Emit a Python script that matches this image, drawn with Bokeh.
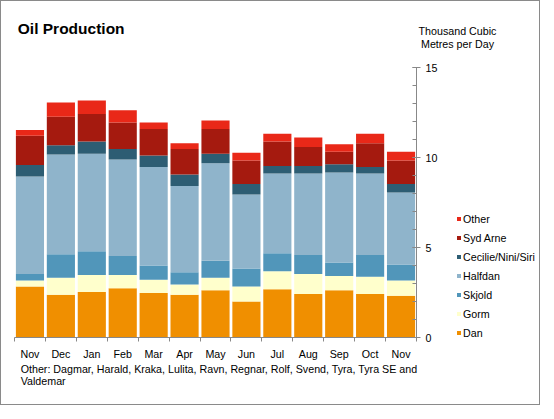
from bokeh.plotting import figure
from bokeh.layouts import column, row
from bokeh.models import (Range1d, FixedTicker, SingleIntervalTicker, Legend,
                          LegendItem, Label, ColumnDataSource)
from bokeh.embed import file_html
from bokeh.resources import INLINE

months = ["Nov", "Dec", "Jan", "Feb", "Mar", "Apr", "May", "Jun",
          "Jul", "Aug", "Sep", "Oct", "Nov"]
dan = [2.84, 2.37, 2.53, 2.74, 2.47, 2.37, 2.63, 2.00, 2.68, 2.42, 2.63, 2.42, 2.32]
gorm = [0.32, 0.95, 0.94, 0.73, 0.74, 0.58, 0.69, 0.84, 1.00, 1.11, 0.79, 0.95, 0.84]
skjold = [0.37, 1.31, 1.32, 1.06, 0.79, 0.68, 0.94, 1.00, 1.00, 1.05, 0.74, 1.21, 0.89]
halfdan = [5.42, 5.53, 5.42, 5.36, 5.47, 4.79, 5.42, 4.11, 4.43, 4.53, 5.00, 4.53, 4.00]
cecilie = [0.63, 0.52, 0.68, 0.58, 0.64, 0.63, 0.53, 0.58, 0.42, 0.42, 0.47, 0.36, 0.48]
syd_arne = [1.63, 1.58, 1.53, 1.48, 1.47, 1.42, 1.37, 1.31, 1.36, 1.05, 0.69, 1.32, 1.31]
other = [0.32, 0.79, 0.74, 0.68, 0.37, 0.32, 0.47, 0.42, 0.43, 0.53, 0.42, 0.53, 0.48]

series_names = ["Dan", "Gorm", "Skjold", "Halfdan", "Cecilie/Nini/Siri", "Syd Arne", "Other"]
series_keys = ["dan", "gorm", "skjold", "halfdan", "cecilie", "syd_arne", "other"]
colors = ["#F08F00", "#FFFFCC", "#5196BA", "#8FB4CB", "#2D5D73", "#A51A0F", "#E92818"]

title_text = "Oil Production"
unit_lines = ["Thousand Cubic", "Metres per Day"]
note_lines = ["Other: Dagmar, Harald, Kraka, Lulita, Ravn, Regnar, Rolf, Svend, Tyra, Tyra SE and",
              "Valdemar"]

FONT = "Liberation Sans"
SMALL = "10.7px"
GRAY = "#888888"
W = 538
TOP_H, MAIN_H, BOT_H = 58, 303, 42
MAIN_W = 440


def blank_fig(w, h):
    f = figure(width=w, height=h, output_backend="svg", toolbar_location=None,
               x_range=Range1d(0, w), y_range=Range1d(h, 0),
               x_axis_type=None, y_axis_type=None, min_border=0)
    f.outline_line_color = None
    f.grid.visible = False
    f.background_fill_color = "white"
    f.border_fill_color = "white"
    return f


# ---------------- main chart ----------------
xs = list(range(1, len(months) + 1))
source = ColumnDataSource(data=dict(
    x=xs, dan=dan, gorm=gorm, skjold=skjold, halfdan=halfdan,
    cecilie=cecilie, syd_arne=syd_arne, other=other))

p = figure(width=MAIN_W, height=MAIN_H, output_backend="svg", toolbar_location=None,
           x_range=Range1d(0.5, len(months) + 0.5), y_range=Range1d(0, 15),
           y_axis_location="right",
           min_border_left=13, min_border_right=25, min_border_top=8, min_border_bottom=20)
p.outline_line_color = None
p.grid.visible = False
p.background_fill_color = "white"
p.border_fill_color = "white"

p.vbar_stack(series_keys, x="x", width=0.91, source=source,
             fill_color=colors, line_color=None)

xa = p.xaxis[0]
xa.ticker = FixedTicker(ticks=xs, minor_ticks=[x - 0.5 for x in xs] + [xs[-1] + 0.5])
xa.major_label_overrides = {x: m for x, m in zip(xs, months)}
xa.major_tick_in = 0
xa.major_tick_out = 0
xa.minor_tick_in = 0
xa.minor_tick_out = 4
xa.axis_line_color = GRAY
xa.minor_tick_line_color = GRAY
xa.major_label_standoff = 6
xa.major_label_text_font = FONT
xa.major_label_text_font_size = SMALL
xa.major_label_text_color = "black"

ya = p.yaxis[0]
ya.ticker = SingleIntervalTicker(interval=5, num_minor_ticks=5)
ya.axis_line_color = GRAY
ya.major_tick_line_color = GRAY
ya.minor_tick_line_color = GRAY
ya.major_tick_in = 4
ya.major_tick_out = 4
ya.minor_tick_in = 4
ya.minor_tick_out = 0
ya.major_label_standoff = 5
ya.major_label_text_font = FONT
ya.major_label_text_font_size = SMALL
ya.major_label_text_color = "black"

# ---------------- legend panel ----------------
lg = blank_fig(W - MAIN_W, MAIN_H)
# hidden copies of the bar stacks: they only give the legend its swatches
proxies = lg.vbar_stack(series_keys, x="x", width=0.91, source=source,
                        fill_color=colors, line_color=None)
for r in proxies:
    r.visible = False
items = [LegendItem(label=n, renderers=[r]) for n, r in zip(series_names, proxies)][::-1]
legend = Legend(items=items, location=(15, -2), orientation="vertical",
                glyph_width=5, glyph_height=5, label_height=13, spacing=6,
                padding=0, margin=0, border_line_color=None, background_fill_alpha=0,
                inactive_fill_alpha=0, click_policy="none",
                label_standoff=2, label_text_font=FONT, label_text_font_size=SMALL,
                label_text_color="black")
lg.add_layout(legend)

# ---------------- header ----------------
top = blank_fig(W, TOP_H)
top.add_layout(Label(x=16.3, y=27, text=title_text, text_font=FONT, text_font_size="15.5px",
                     text_font_style="bold", text_baseline="middle", text_align="left",
                     text_color="black"))
for i, t in enumerate(unit_lines):
    top.add_layout(Label(x=456, y=29 + 13 * i, text=t, text_font=FONT, text_font_size=SMALL,
                         text_baseline="middle", text_align="center", text_color="black"))

# ---------------- footnote ----------------
bot = blank_fig(W, BOT_H)
for i, t in enumerate(note_lines):
    bot.add_layout(Label(x=19.2, y=6.8 + 12 * i, text=t, text_font=FONT, text_font_size=SMALL,
                         text_baseline="middle", text_align="left", text_color="black"))

layout = column(top, row(p, lg), bot, styles={"border": "1px solid #8a8a8a"})

open("out.html", "w").write(file_html(layout, INLINE))
